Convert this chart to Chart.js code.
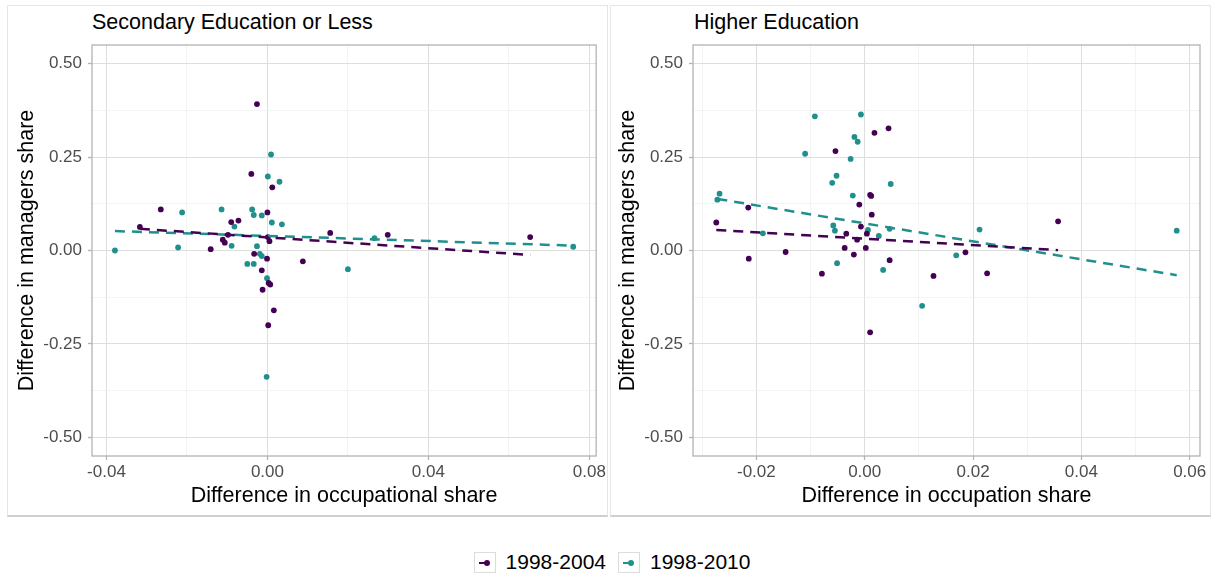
<!DOCTYPE html>
<html>
<head>
<meta charset="utf-8">
<script src="https://cdn.jsdelivr.net/npm/chart.js@4.4.1/dist/chart.umd.min.js"></script>
<style>
  body { margin: 0; background: #fff; font-family: "Liberation Sans", Arial, sans-serif; }
  #page { position: relative; width: 1214px; height: 576px; overflow: hidden; }
  .panel { position: absolute; top: 5px; width: 601px; height: 512px; box-sizing: border-box;
           border: 1px solid #e6e6e6; border-bottom: 2px solid #cfcfcf; }
  .chartbox { position: absolute; top: 5px; }
  .ptitle { position: absolute; top: 10px; font-size: 21.5px; line-height: 24px; color: #000; white-space: nowrap; }
  #legend { position: absolute; left: 0; width: 1214px; top: 550px; display: flex; justify-content: center;
            align-items: center; font-size: 21px; color: #000; padding-left: 22px; box-sizing: border-box; }
  .key { width: 22px; height: 21px; box-sizing: border-box; border: 1px solid #dcdcdc; position: relative; margin: 0 10px 0 0; }
  .key .ln { position: absolute; left: 4px; top: 9px; width: 8px; height: 2.5px; }
  .key .dot { position: absolute; left: 9px; top: 7px; width: 6px; height: 6px; border-radius: 50%; }
  .item { display: flex; align-items: center; margin-right: 12px; }
</style>
</head>
<body>
<div id="page">
  <div class="panel" style="left:7px"></div>
  <div class="panel" style="left:610px"></div>
  <div class="ptitle" style="left:92px">Secondary Education or Less</div>
  <div class="ptitle" style="left:694px">Higher Education</div>
  <canvas id="chart-sec" class="chartbox" style="left:7px" width="601" height="512"></canvas>
  <canvas id="chart-high" class="chartbox" style="left:610px" width="601" height="512"></canvas>
  <div id="legend"></div>
</div>

<script>
// series names + colours (viridis ends)
const seriesNames = ["1998-2004", "1998-2010"];
const seriesColors = ["#440154", "#21908C"];

// ---- Secondary Education or Less ----
const secX2004 = [-0.0026, -0.0040, 0.0012, -0.0265, 0.0000, -0.0072, -0.0090, -0.0317, -0.0098, -0.0111,
  -0.0106, -0.0141, 0.0001, 0.0005, -0.0033, -0.0001, 0.0088, -0.0014, 0.0156, 0.0003,
  0.0007, -0.0012, 0.0016, 0.0002, 0.0299, 0.0653];
const secY2004 = [0.392, 0.205, 0.169, 0.110, 0.102, 0.080, 0.076, 0.063, 0.042, 0.029,
  0.021, 0.0035, 0.036, 0.025, -0.009, -0.022, -0.029, -0.053, 0.047, -0.087,
  -0.091, -0.105, -0.160, -0.200, 0.042, 0.036];
const secX2010 = [0.0009, 0.0001, 0.0030, -0.0212, -0.0114, -0.0038, -0.0034, -0.0014, 0.0011, 0.0036,
  -0.0082, -0.0089, -0.0222, -0.0379, -0.0026, -0.0019, -0.0014, -0.0050, -0.0034, -0.0001,
  0.0200, -0.0002, 0.0266, 0.0760];
const secY2010 = [0.257, 0.198, 0.184, 0.102, 0.110, 0.110, 0.095, 0.094, 0.075, 0.070,
  0.064, 0.0125, 0.008, 0.000, 0.0115, -0.009, -0.015, -0.036, -0.036, -0.074,
  -0.050, -0.338, 0.033, 0.010];
// fitted lines (end points)
const secFitX2004 = [-0.0317, 0.0653];
const secFitY2004 = [0.058, -0.012];
const secFitX2010 = [-0.0379, 0.0760];
const secFitY2010 = [0.052, 0.013];

// ---- Higher Education ----
const highX2004 = [0.0044, 0.0018, -0.0054, 0.0010, 0.0012, -0.0215, -0.0010, 0.0013, -0.0274, -0.0007,
  -0.0034, 0.0004, -0.0014, -0.0037, 0.0002, -0.0020, -0.0146, -0.0214, 0.0046, -0.0079,
  0.0127, 0.0010, 0.0186, 0.0226, 0.0357];
const highY2004 = [0.327, 0.315, 0.266, 0.149, 0.146, 0.115, 0.123, 0.096, 0.075, 0.064,
  0.045, 0.045, 0.029, 0.007, 0.007, -0.011, -0.004, -0.022, -0.026, -0.062,
  -0.068, -0.219, -0.005, -0.061, 0.078];
const highX2010 = [-0.0092, -0.0007, -0.0019, -0.0013, -0.0110, -0.0026, -0.0052, -0.0060, 0.0048, -0.0268,
  -0.0272, -0.0022, -0.0058, -0.0055, 0.0006, 0.0046, -0.0188, 0.0026, -0.0051, 0.0034,
  0.0106, 0.0169, 0.0212, 0.0576];
const highY2010 = [0.359, 0.364, 0.304, 0.291, 0.259, 0.245, 0.200, 0.181, 0.178, 0.152,
  0.136, 0.147, 0.067, 0.053, 0.055, 0.058, 0.046, 0.039, -0.034, -0.052,
  -0.148, -0.013, 0.056, 0.053];
const highFitX2004 = [-0.0274, 0.0357];
const highFitY2004 = [0.055, 0.001];
const highFitX2010 = [-0.0272, 0.0576];
const highFitY2010 = [0.138, -0.066];

// ticks
const yTicks = [-0.5, -0.25, 0, 0.25, 0.5];
const yMinor = [-0.375, -0.125, 0.125, 0.375];
const secXTicks = [-0.04, 0, 0.04, 0.08];
const secXMinor = [-0.02, 0.02, 0.06];
const highXTicks = [-0.02, 0, 0.02, 0.04, 0.06];
const highXMinor = [-0.03, -0.01, 0.01, 0.03, 0.05];

function pts(xs, ys) {
  return xs.map((x, i) => ({ x: x, y: ys[i] }));
}

function isMajor(v, majors) {
  return majors.some(m => Math.abs(m - v) < 1e-9);
}

// draws the grey frame round the plot area like ggplot's panel.border
const panelBorder = {
  id: 'panelBorder',
  afterDatasetsDraw(chart) {
    const { ctx, chartArea: a } = chart;
    ctx.save();
    ctx.strokeStyle = '#b3b3b3';
    ctx.lineWidth = 1.3;
    ctx.strokeRect(a.left, a.top, a.right - a.left, a.bottom - a.top);
    ctx.restore();
  }
};

function makeAxis(majors, minors, min, max, title, fitSize, isY, titlePad) {
  return {
    type: 'linear',
    min: min,
    max: max,
    border: { display: false },
    afterBuildTicks: (axis) => {
      axis.ticks = majors.concat(minors).sort((a, b) => a - b).map(v => ({ value: v }));
    },
    afterFit: (axis) => {
      if (isY) axis.width = fitSize; else axis.height = fitSize;
    },
    grid: {
      color: (c) => isMajor(c.tick.value, majors) ? '#dedede' : '#efefef',
      lineWidth: (c) => isMajor(c.tick.value, majors) ? 1 : 0.7,
      tickColor: (c) => isMajor(c.tick.value, majors) ? '#b3b3b3' : 'rgba(0,0,0,0)',
      tickLength: 4,
      tickWidth: 1.3
    },
    ticks: {
      autoSkip: false,
      maxRotation: 0,
      padding: isY ? 6 : 2,
      color: '#4d4d4d',
      font: { family: '"Liberation Sans", Arial, sans-serif', size: 17 },
      callback: (v) => isMajor(v, majors) ? v.toFixed(2) : ''
    },
    title: {
      display: true,
      text: title,
      color: '#000',
      padding: titlePad,
      font: { family: '"Liberation Sans", Arial, sans-serif', size: 21.5 }
    }
  };
}

function drawPanel(id, p) {
  const ctx = document.getElementById(id).getContext('2d');
  return new Chart(ctx, {
    type: 'scatter',
    data: {
      datasets: [
        { type: 'line', data: pts(p.fitX[0], p.fitY[0]), borderColor: seriesColors[0], borderWidth: 2.5,
          borderDash: [10, 7], pointRadius: 0, fill: false, tension: 0 },
        { type: 'line', data: pts(p.fitX[1], p.fitY[1]), borderColor: seriesColors[1], borderWidth: 2.5,
          borderDash: [10, 7], pointRadius: 0, fill: false, tension: 0 },
        { label: seriesNames[0], data: pts(p.x[0], p.y[0]), backgroundColor: seriesColors[0],
          pointRadius: 2.9, borderWidth: 0 },
        { label: seriesNames[1], data: pts(p.x[1], p.y[1]), backgroundColor: seriesColors[1],
          pointRadius: 2.9, borderWidth: 0 }
      ]
    },
    options: {
      responsive: false,
      animation: false,
      layout: { padding: { top: 40, right: p.rightPad, left: 0, bottom: 0 } },
      plugins: { legend: { display: false }, tooltip: { enabled: false } },
      scales: {
        x: makeAxis(p.xTicks, p.xMinor, p.xMin, p.xMax, p.xTitle, 61, false, { top: 2, bottom: 8 }),
        y: makeAxis(yTicks, yMinor, -0.55, 0.55, 'Difference in managers share', p.yWidth, true, { top: p.yTitlePad, bottom: 0 })
      }
    },
    plugins: [panelBorder]
  });
}

drawPanel('chart-sec', {
  x: [secX2004, secX2010], y: [secY2004, secY2010],
  fitX: [secFitX2004, secFitX2010], fitY: [secFitY2004, secFitY2010],
  xTicks: secXTicks, xMinor: secXMinor, xMin: -0.0436, xMax: 0.0817,
  xTitle: 'Difference in occupational share', rightPad: 10, yWidth: 85, yTitlePad: 7
});

drawPanel('chart-high', {
  x: [highX2004, highX2010], y: [highY2004, highY2010],
  fitX: [highFitX2004, highFitX2010], fitY: [highFitY2004, highFitY2010],
  xTicks: highXTicks, xMinor: highXMinor, xMin: -0.0317, xMax: 0.0619,
  xTitle: 'Difference in occupation share', rightPad: 11, yWidth: 83, yTitlePad: 5
});

// legend at the bottom
const legend = document.getElementById('legend');
seriesNames.forEach((name, i) => {
  const item = document.createElement('div');
  item.className = 'item';
  item.innerHTML = '<div class="key"><div class="ln" style="background:' + seriesColors[i] + '"></div>' +
    '<div class="dot" style="background:' + seriesColors[i] + '"></div></div><span>' + name + '</span>';
  legend.appendChild(item);
});
</script>
</body>
</html>
